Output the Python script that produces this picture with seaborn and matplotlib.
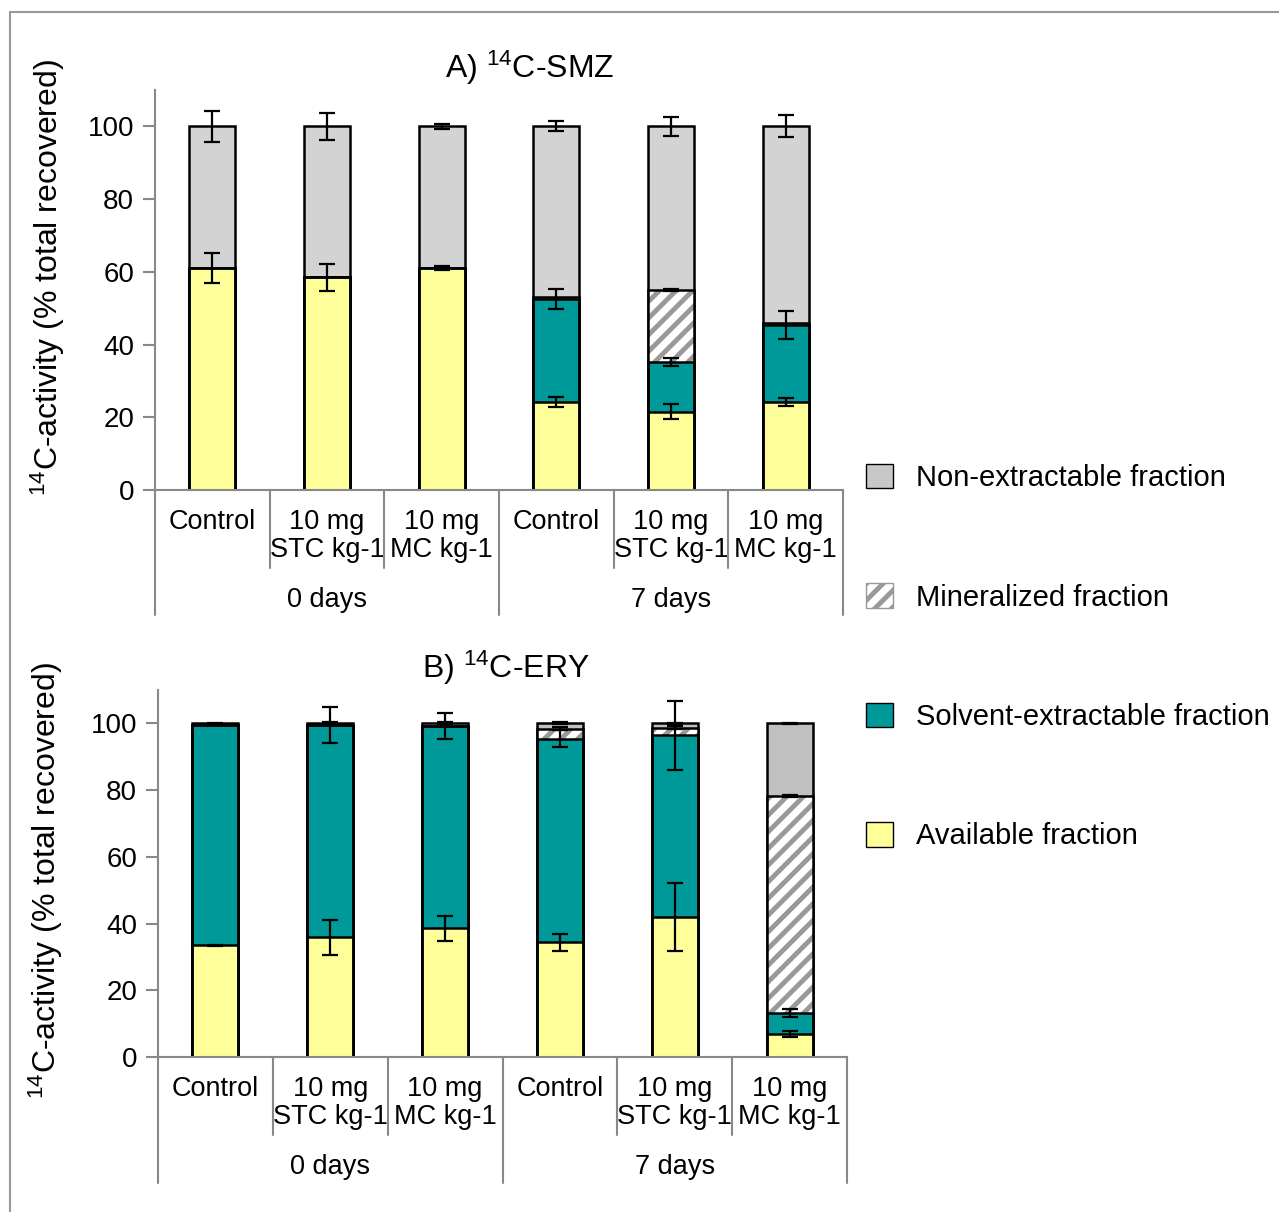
import numpy as np
import matplotlib
matplotlib.use("Agg")
import matplotlib.pyplot as plt
import seaborn as sns
from matplotlib.patches import Patch
from matplotlib.lines import Line2D

sns.set_style("white")
plt.rcParams["font.family"] = ["Liberation Sans", "DejaVu Sans"]
plt.rcParams["mathtext.fontset"] = "custom"
plt.rcParams["mathtext.rm"] = "Liberation Sans"
plt.rcParams["mathtext.default"] = "regular"
plt.rcParams["hatch.linewidth"] = 3.5
plt.rcParams["hatch.color"] = "#999999"
for k in ["text.color", "axes.labelcolor", "xtick.color", "ytick.color"]:
    plt.rcParams[k] = "black"

# treatments (two levels on the x axis)
treatments = ["Control", "10 mg\nSTC kg-1", "10 mg\nMC kg-1"] * 2
times = ["0 days", "7 days"]
fraction_names = ["Available fraction", "Solvent-extractable fraction",
                  "Mineralized fraction", "Non-extractable fraction"]

# A) 14C-SMZ, % of total recovered
smz_available = [61.0, 58.5, 61.0, 24.3, 21.5, 24.2]
smz_solvent = [0.0, 0.0, 0.0, 28.2, 13.7, 21.1]
smz_mineralized = [0.0, 0.0, 0.0, 0.6, 19.8, 0.5]
smz_nonextract = [39.0, 41.5, 39.0, 46.9, 45.0, 54.2]
smz_err_available = [4.2, 3.7, 0.5, 1.4, 2.1, 1.0]
smz_err_solvent = [0.0, 0.0, 0.0, 2.8, 1.0, 3.9]
smz_err_mineralized = [0.0, 0.0, 0.0, 0.0, 0.3, 0.0]
smz_err_nonextract = [4.2, 3.7, 0.7, 1.4, 2.7, 3.0]

# B) 14C-ERY
ery_available = [33.5, 35.9, 38.6, 34.4, 42.0, 6.9]
ery_solvent = [66.1, 63.6, 60.6, 61.0, 54.4, 6.2]
ery_mineralized = [0.0, 0.0, 0.0, 3.0, 2.3, 65.2]
ery_nonextract = [0.4, 0.5, 0.8, 1.6, 1.3, 21.7]
ery_err_available = [0.2, 5.3, 3.7, 2.5, 10.2, 1.0]
ery_err_solvent = [0.2, 5.5, 4.0, 2.6, 10.3, 1.2]
ery_err_mineralized = [0.0, 0.0, 0.0, 0.5, 0.4, 0.3]
ery_err_nonextract = [0.2, 0.3, 0.3, 0.3, 0.2, 0.1]

yellow = "#ffff99"
teal = "#009999"
hatch_gray = "#999999"
axis_gray = "#888888"

W, H = 1279, 1212
fig = plt.figure(figsize=(W / 100, H / 100), dpi=100)


def px_axes(left, top, right, bottom):
    return fig.add_axes([left / W, 1 - bottom / H, (right - left) / W, (bottom - top) / H])


def draw_panel(ax, title, title_xy, values, errors, gray, inner_px, outer_px, group_px):
    x = np.arange(len(treatments))
    tops = np.cumsum(values, axis=0)
    fills = [yellow, teal, "white", gray]

    # tallest stack first, lower stacks drawn over it
    for i in [3, 2, 1, 0]:
        n = len(ax.patches)
        sns.barplot(x=x, y=tops[i], ax=ax, width=0.4, errorbar=None, color=fills[i])
        for p in ax.patches[n:]:
            p.set_facecolor(fills[i])
            if i == 2:
                p.set_edgecolor(hatch_gray)
                p.set_hatch("//")
                p.set_linewidth(0)
            else:
                p.set_edgecolor("black")
                p.set_linewidth(1.8)
    # black outline for the hatched segment
    n = len(ax.patches)
    sns.barplot(x=x, y=tops[2], ax=ax, width=0.4, errorbar=None, color="black")
    for p in ax.patches[n:]:
        p.set_facecolor("none")
        p.set_edgecolor("black")
        p.set_linewidth(1.8)

    for i in range(4):
        err = np.asarray(errors[i])
        m = err > 0
        ax.errorbar(x[m], tops[i][m], yerr=err[m], fmt="none", ecolor="black",
                    elinewidth=1.6, capsize=6, capthick=1.6, zorder=5)

    ax.set_xlim(-0.5, 5.5)
    ax.set_ylim(0, 110)
    ax.set_yticks(range(0, 101, 20))
    ax.tick_params(axis="y", left=True, length=9, width=1.5, color=axis_gray,
                   labelsize=20, pad=6)
    ax.set_xticks(x)
    ax.set_xticklabels(treatments, fontsize=19.5, linespacing=1.1, va="top")
    ax.tick_params(axis="x", length=0, pad=14)
    ax.set_xlabel("")
    for s in ["top", "right"]:
        ax.spines[s].set_visible(False)
    for s in ["left", "bottom"]:
        ax.spines[s].set_color(axis_gray)
        ax.spines[s].set_linewidth(1.5)
    ax.set_ylabel("$^{14}$C-activity (% total recovered)", fontsize=23)

    h = ax.get_position().height * H
    tr = ax.get_xaxis_transform()
    for xv in [0.5, 1.5, 3.5, 4.5]:
        ax.plot([xv, xv], [0, -inner_px / h], color=axis_gray, lw=1.5,
                transform=tr, clip_on=False)
    for xv in [-0.5, 2.5, 5.5]:
        ax.plot([xv, xv], [0, -outer_px / h], color=axis_gray, lw=1.5,
                transform=tr, clip_on=False)
    for k, g in enumerate(times):
        ax.text(1 + 3 * k, -group_px / h, g, transform=tr, ha="center", va="center",
                fontsize=19.5)

    fig.text(title_xy[0] / W, 1 - title_xy[1] / H, title, ha="center", va="center",
             fontsize=23)


ax_a = px_axes(155, 90, 843, 490)
draw_panel(ax_a, "A) $^{14}$C-SMZ", (530, 68),
           [smz_available, smz_solvent, smz_mineralized, smz_nonextract],
           [smz_err_available, smz_err_solvent, smz_err_mineralized, smz_err_nonextract],
           "#d3d3d3", 78, 125, 110)
ax_a.yaxis.set_label_coords(-0.128, 0.53)

ax_b = px_axes(158, 690, 847, 1057)
draw_panel(ax_b, "B) $^{14}$C-ERY", (506, 668),
           [ery_available, ery_solvent, ery_mineralized, ery_nonextract],
           [ery_err_available, ery_err_solvent, ery_err_mineralized, ery_err_nonextract],
           "#c0c0c0", 78, 126, 110)
ax_b.yaxis.set_label_coords(-0.135, 0.482)

handles = [
    Patch(facecolor="#c8c8c8", edgecolor="black", linewidth=1),
    Patch(facecolor="white", edgecolor=hatch_gray, hatch="//", linewidth=1),
    Patch(facecolor=teal, edgecolor="black", linewidth=1),
    Patch(facecolor=yellow, edgecolor="black", linewidth=1),
]
labels = fraction_names[::-1]
fig.legend(handles, labels, loc="upper left", bbox_to_anchor=(854 / W, 1 - 452 / H),
           frameon=False, fontsize=21, handlelength=0.93, handleheight=0.93,
           handletextpad=0.8, labelspacing=3.12, borderaxespad=0)

# thin frame around the figure (top and left edges)
fig.add_artist(Line2D([10 / W, 1], [1 - 12 / H, 1 - 12 / H], color="#999999", lw=1.5))
fig.add_artist(Line2D([10 / W, 10 / W], [0, 1 - 12 / H], color="#999999", lw=1.5))

fig.savefig("out.png", dpi=100)
